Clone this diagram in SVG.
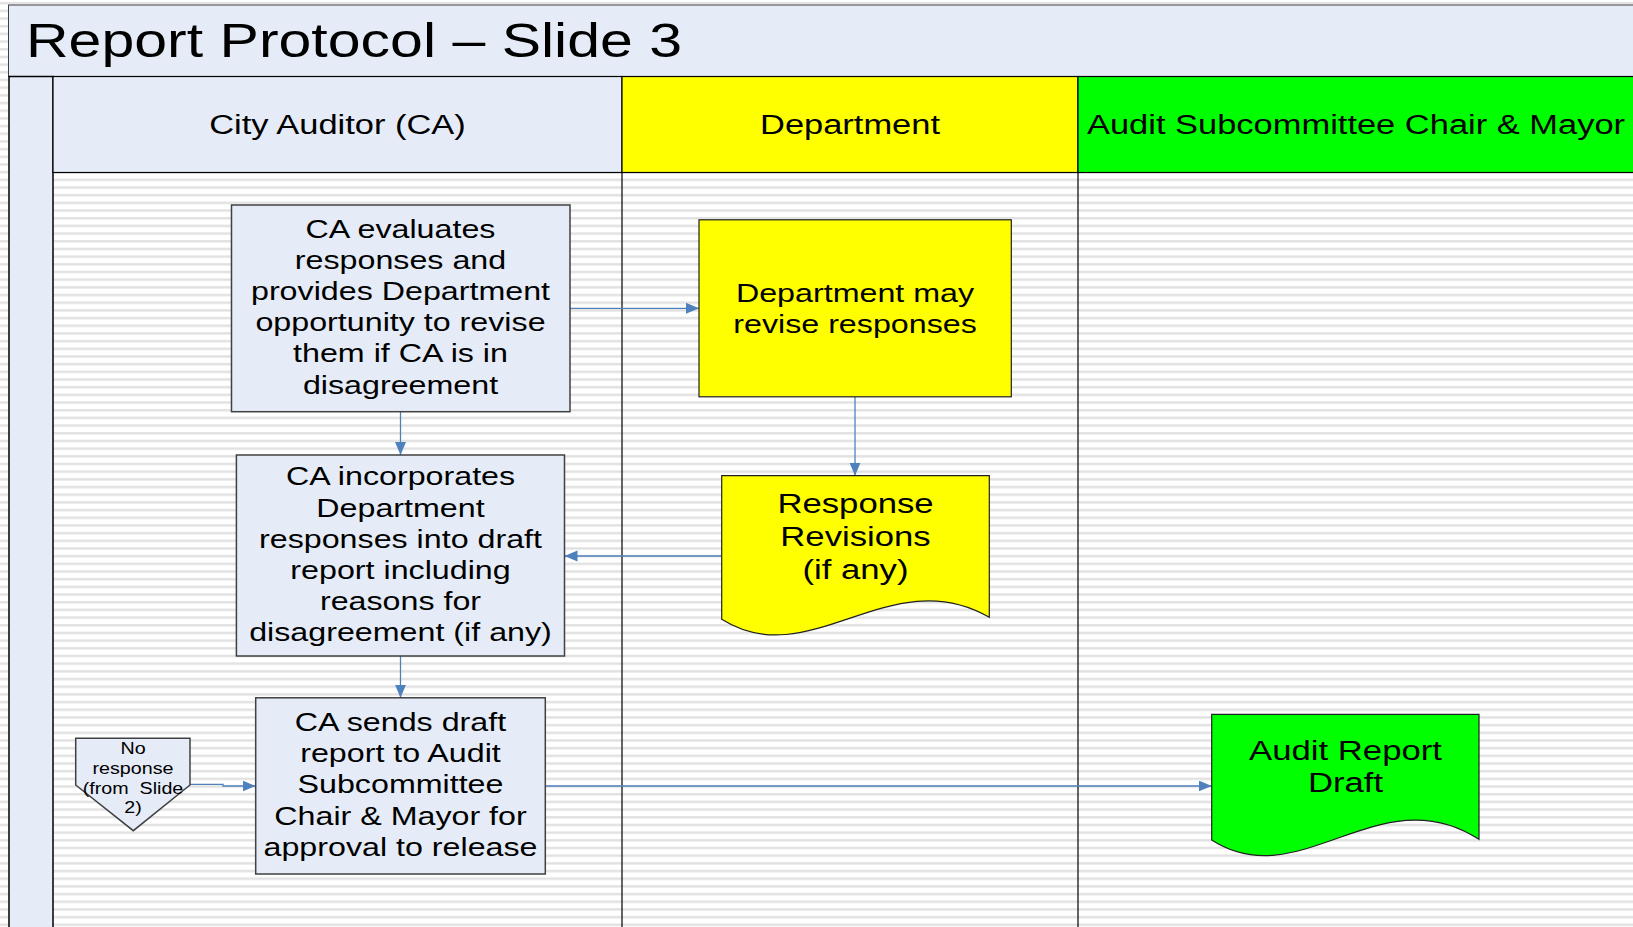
<svg xmlns="http://www.w3.org/2000/svg" width="1633" height="927" viewBox="0 0 1633 927">
  <style>
    .txt { font-family: "Liberation Sans", Arial, sans-serif; fill: #000; text-anchor: middle; }
    .title { font-size: 47.6px; text-anchor: start; }
    .lane-t { font-size: 27.8px; }
    .t26 { font-size: 26px; }
    .t28 { font-size: 28px; }
    .t16 { font-size: 16px; }
    .box { fill: #E5ECF7; stroke: #404040; stroke-width: 1.5; }
    .doc { stroke: #202020; stroke-width: 1.2; }
    .edge { fill: none; stroke: #4F81BD; stroke-width: 1.3; }
    .rule { stroke: #000; stroke-width: 1.2; fill: none; }
  </style>
  <defs>
    <pattern id="stripes" patternUnits="userSpaceOnUse" width="16" height="7.68">
      <rect width="16" height="7.68" fill="#ffffff"/>
      <rect y="2" width="16" height="2.4" fill="#e1e1e1"/>
    </pattern>
    <marker id="arrow" markerUnits="userSpaceOnUse" markerWidth="14" markerHeight="12" refX="13" refY="5.5" orient="auto">
      <path d="M0,0 L13,5.5 L0,11 Z" fill="#4F81BD"/>
    </marker>
  </defs>

  <!-- page background -->
  <rect width="1633" height="927" fill="url(#stripes)"/>

  <!-- title bar -->
  <g id="title">
    <rect x="8.5" y="5" width="1640" height="71.5" fill="#E5ECF7" stroke="#404040" stroke-width="1"/>
    <text class="txt title" transform="translate(26 0) scale(1.24 1)" x="0" y="56.7">Report Protocol – Slide 3</text>
  </g>

  <!-- pool strip and swimlanes -->
  <g id="pool">
    <rect x="9" y="76.5" width="44" height="860" fill="#E5ECF7" stroke="#000" stroke-width="1.5"/>
  </g>
  <g id="lane-ca">
    <rect x="53" y="76.5" width="569" height="96" fill="#E5ECF7" stroke="#000" stroke-width="1.2"/>
    <text class="txt lane-t" transform="translate(337.5 0) scale(1.24 1)" x="0" y="134.5">City Auditor (CA)</text>
  </g>
  <g id="lane-dept">
    <rect x="622" y="76.5" width="456" height="96" fill="#FFFF00" stroke="#000" stroke-width="1.2"/>
    <text class="txt lane-t" transform="translate(850 0) scale(1.24 1)" x="0" y="134.5">Department</text>
  </g>
  <g id="lane-asc">
    <rect x="1078" y="76.5" width="570" height="96" fill="#00FF00" stroke="#000" stroke-width="1.2"/>
    <text class="txt lane-t" transform="translate(1356 0) scale(1.24 1)" x="0" y="134.5">Audit Subcommittee Chair &amp; Mayor</text>
  </g>
  <g id="lane-rules">
    <line class="rule" x1="622" y1="172.5" x2="622" y2="927"/>
    <line class="rule" x1="1078" y1="172.5" x2="1078" y2="927"/>
  </g>

  <!-- connectors -->
  <g id="connectors">
    <path class="edge" d="M570,308.3 H699" marker-end="url(#arrow)"/>
    <path class="edge" d="M400.5,411.7 V455" marker-end="url(#arrow)"/>
    <path class="edge" d="M855,397 V475.7" marker-end="url(#arrow)"/>
    <path class="edge" d="M721.7,556 H564.5" marker-end="url(#arrow)"/>
    <path class="edge" d="M400.5,656 V697.8" marker-end="url(#arrow)"/>
    <path class="edge" d="M190,784.4 H223 V786 H255.5" marker-end="url(#arrow)"/>
    <path class="edge" d="M545.3,786 H1211.7" marker-end="url(#arrow)"/>
  </g>

  <!-- nodes (line breaks kept between tags so no stray spaces shift the centring) -->
  <g id="ca-evaluates">
    <rect class="box" x="231.5" y="205" width="338.5" height="206.7"/>
    <text class="txt t26" transform="translate(400.5 0) scale(1.24 1)"><tspan x="0" y="237.7">CA evaluates</tspan><tspan x="0" y="268.9">responses and</tspan><tspan x="0" y="300.1">provides Department</tspan><tspan x="0" y="331.3">opportunity to revise</tspan><tspan x="0" y="362.5">them if CA is in</tspan><tspan x="0" y="393.7">disagreement</tspan></text>
  </g>

  <g id="dept-may-revise">
    <rect x="699" y="219.8" width="312.3" height="177" fill="#FFFF00" stroke="#202020" stroke-width="1.2"/>
    <text class="txt t26" transform="translate(855 0) scale(1.24 1)"><tspan x="0" y="301.7">Department may</tspan><tspan x="0" y="332.9">revise responses</tspan></text>
  </g>

  <g id="ca-incorporates">
    <rect class="box" x="236.4" y="455" width="328.1" height="201"/>
    <text class="txt t26" transform="translate(400.5 0) scale(1.24 1)"><tspan x="0" y="485.5">CA incorporates</tspan><tspan x="0" y="516.7">Department</tspan><tspan x="0" y="547.9">responses into draft</tspan><tspan x="0" y="579.1">report including</tspan><tspan x="0" y="610.3">reasons for</tspan><tspan x="0" y="641.5">disagreement (if any)</tspan></text>
  </g>

  <g id="response-revisions">
    <path class="doc" fill="#FFFF00" d="M721.7,475.7 H989.3 V617.3 C890,560 810,675 721.7,619.3 Z"/>
    <text class="txt t28" transform="translate(855.5 0) scale(1.24 1)"><tspan x="0" y="513.3">Response</tspan><tspan x="0" y="546.4">Revisions</tspan><tspan x="0" y="579.5">(if any)</tspan></text>
  </g>

  <g id="no-response">
    <path class="box" stroke-width="1" d="M75.7,738.3 H190 V785 L133.3,830.7 L75.7,785 Z"/>
    <text class="txt t16" transform="translate(133 0) scale(1.23 1)"><tspan x="0" y="754.3">No</tspan><tspan x="0" y="774.5">response</tspan><tspan x="0" y="794.3">(from&#160; Slide</tspan><tspan x="0" y="813.3">2)</tspan></text>
  </g>

  <g id="ca-sends-draft">
    <rect class="box" x="255.7" y="697.8" width="289.6" height="176.2"/>
    <text class="txt t26" transform="translate(400.5 0) scale(1.24 1)"><tspan x="0" y="730.7">CA sends draft</tspan><tspan x="0" y="762">report to Audit</tspan><tspan x="0" y="793.3">Subcommittee</tspan><tspan x="0" y="824.6">Chair &amp; Mayor for</tspan><tspan x="0" y="856">approval to release</tspan></text>
  </g>

  <g id="audit-report-draft">
    <path class="doc" fill="#00FF00" d="M1211.7,714.3 H1479 V839.3 C1380,775 1300,897 1211.7,840 Z"/>
    <text class="txt t28" transform="translate(1345.5 0) scale(1.24 1)"><tspan x="0" y="760">Audit Report</tspan><tspan x="0" y="792.3">Draft</tspan></text>
  </g>
</svg>
